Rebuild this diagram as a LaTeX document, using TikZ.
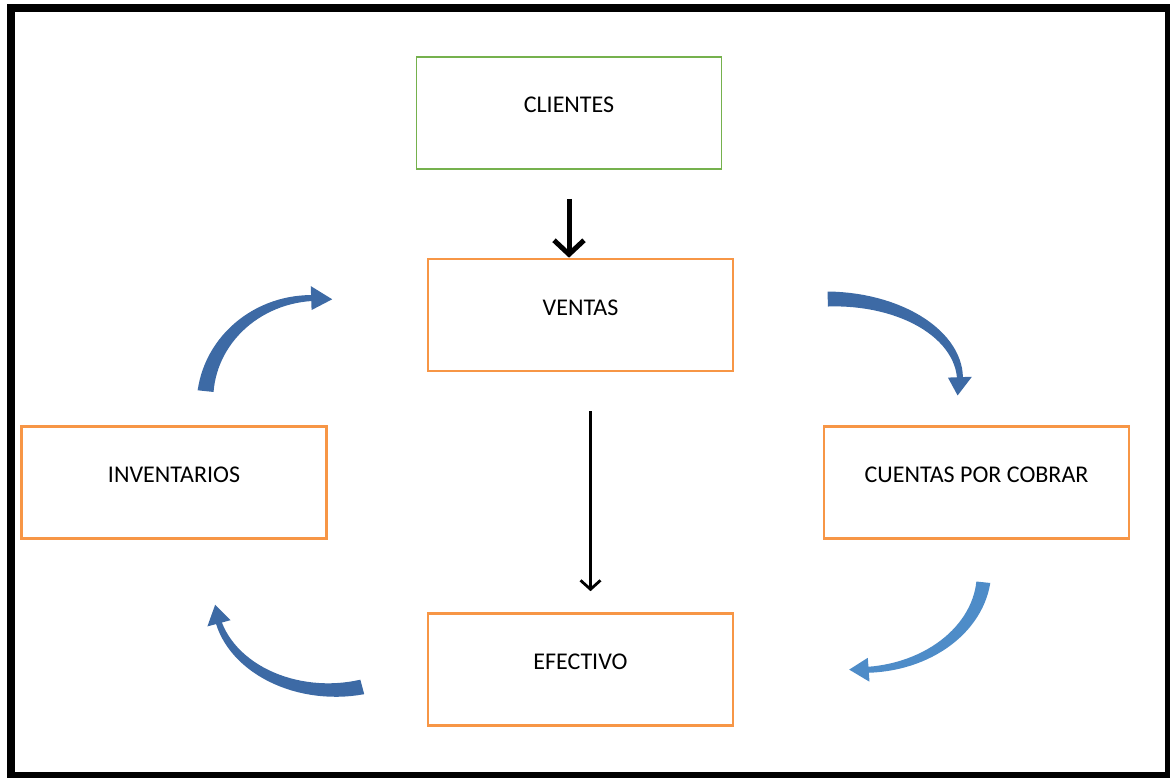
\documentclass[tikz,border=0pt]{standalone}
\usepackage{fontspec}
\setmainfont{Carlito}
\usetikzlibrary{arrows.meta}

\definecolor{boxorange}{RGB}{247,150,70}
\definecolor{boxgreen}{RGB}{117,177,77}
\definecolor{arcblue}{RGB}{61,106,165}
\definecolor{arclight}{RGB}{78,140,200}

\tikzset{
  box/.style={draw=boxorange, line width=2.6pt, minimum width=305pt, minimum height=112pt,
    text height=17pt, text depth=17pt, font=\fontsize{24}{28}\selectfont},
  greenbox/.style={box, draw=boxgreen, line width=1.6pt},
  bigarrow/.style={line width=5pt, -{Straight Barb[length=14pt,width=30pt,line width=5pt]}},
  slimarrow/.style={line width=2.6pt, -{Straight Barb[length=9pt,width=20pt,line width=2.8pt]}}
}

% tapered curved arrow: cx, cy, rx, ry, tail angle, head angle, tip angle, tail width, colour
\newcommand{\bluearc}[9]{%
  \fill[#9] plot[domain=#5:#6, samples=30]
      ({#1+(#3+(#8+(6-#8)*(\x-#5)/(#6-#5))/2)*cos(\x)}, {#2+(#4+(#8+(6-#8)*(\x-#5)/(#6-#5))/2)*sin(\x)})
    -- ({#1+(#3+12)*cos(#6)}, {#2+(#4+12)*sin(#6)})
    -- ({#1+#3*cos(#7)}, {#2+#4*sin(#7)})
    -- ({#1+(#3-12)*cos(#6)}, {#2+(#4-12)*sin(#6)})
    -- plot[domain=#6:#5, samples=30]
      ({#1+(#3-(#8+(6-#8)*(\x-#5)/(#6-#5))/2)*cos(\x)}, {#2+(#4-(#8+(6-#8)*(\x-#5)/(#6-#5))/2)*sin(\x)})
    -- cycle;
}

\begin{document}
\begin{tikzpicture}[x=1pt, y=-1pt]
\useasboundingbox (0,0) rectangle (1170,778);
\draw [line width=8pt] (11,8) rectangle (1169,776);

\node [greenbox] (clientes) at (569,113) {CLIENTES};
\node [box] (ventas) at (580.5,315) {VENTAS};
\node [box] (inventarios) at (174,482.5) {INVENTARIOS};
\node [box] (cuentas) at (976.5,482.5) {CUENTAS POR COBRAR};
\node [box] (efectivo) at (580.5,669.5) {EFECTIVO};

\draw [bigarrow] ([yshift=-29pt]clientes.south) -- (clientes.south |- ventas.north);
\draw [slimarrow] ([xshift=10pt,yshift=-39pt]ventas.south) -- ([xshift=10pt,yshift=21pt]efectivo.north);

\bluearc{315}{402}{110}{104}{186}{268}{279}{16}{arcblue}
\bluearc{830}{380}{130}{81}{269}{358}{371}{15}{arcblue}
\bluearc{332}{600}{117}{90}{75}{165}{177}{15}{arcblue}
\bluearc{860}{572}{124}{98}{6}{86}{95}{14}{arclight}
\end{tikzpicture}
\end{document}
